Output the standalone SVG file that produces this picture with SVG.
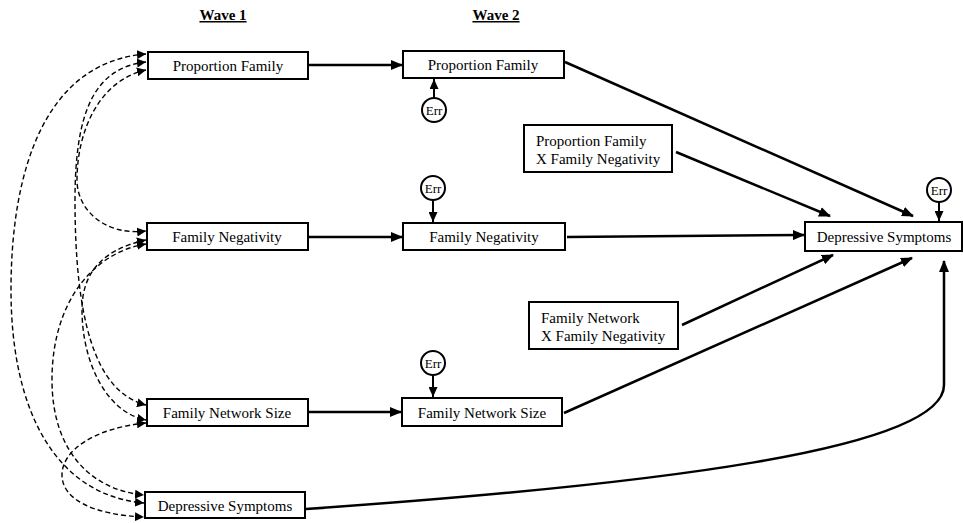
<svg xmlns="http://www.w3.org/2000/svg" width="963" height="523" viewBox="0 0 963 523">
<defs>
<style>
text{font-family:"Liberation Serif","Times New Roman",serif;font-size:15px;fill:#000}
.hdr{font-weight:bold;font-size:15px;text-decoration:underline}
.box{fill:#fff;stroke:#000;stroke-width:2}
.err{fill:#fff;stroke:#000;stroke-width:2}
.errt{font-size:13px}
.a{fill:none;stroke:#000;stroke-width:2.5;marker-end:url(#ah)}
.e{fill:none;stroke:#000;stroke-width:2;marker-end:url(#ahs)}
.d{fill:none;stroke:#000;stroke-width:1.4;stroke-dasharray:5 3;marker-start:url(#dh);marker-end:url(#dh)}
</style>
<marker id="ah" markerUnits="userSpaceOnUse" markerWidth="12" markerHeight="10" refX="11" refY="5" orient="auto"><path d="M0,0 L12,5 L0,10 z" fill="#000"/></marker>
<marker id="ahs" markerUnits="userSpaceOnUse" markerWidth="10" markerHeight="9" refX="10" refY="4.5" orient="auto"><path d="M0,0 L10,4.5 L0,9 z" fill="#000"/></marker>
<marker id="dh" markerUnits="userSpaceOnUse" markerWidth="9" markerHeight="9" refX="9" refY="4.5" orient="auto-start-reverse"><path d="M0,0 L9,4.5 L0,9 z" fill="#000"/></marker>
</defs>

<text class="hdr" x="223" y="20" text-anchor="middle">Wave 1</text>
<text class="hdr" x="496" y="20" text-anchor="middle">Wave 2</text>

<g id="connectors">
<path class="a" d="M309,65 L402,65"/>
<path class="a" d="M309,237 L402,237"/>
<path class="a" d="M309,412 L401,412"/>
<path class="a" d="M565,62 L913,216"/>
<path class="a" d="M676,152 L830,216"/>
<path class="a" d="M567,237 L804,235"/>
<path class="a" d="M682,325 L833,255"/>
<path class="a" d="M564,413 L912,258"/>
<path class="a" d="M306,509 C650,485 944,450 944,385 L944,261"/>
<path class="e" d="M434,98 L434,79"/>
<path class="e" d="M433,200 L433,222"/>
<path class="e" d="M433,375 L433,397"/>
<path class="e" d="M939,202 L939,221"/>
<path class="d" d="M146,54 C45,62 11,170 11,290 C11,410 55,495 144,503"/>
<path class="d" d="M146,62 C95,68 75,110 75,200 C75,320 95,392 146,405"/>
<path class="d" d="M146,70 C100,80 77,130 77,180 C77,210 105,236 146,231"/>
<path class="d" d="M146,244 C95,252 52,300 52,380 C52,450 90,490 144,495"/>
<path class="d" d="M146,240 C100,250 82,275 82,310 C82,360 105,412 146,420"/>
<path class="d" d="M146,423 C95,428 62,450 62,475 C62,500 95,515 144,517"/>
</g>

<g id="w1-pf"><rect class="box" x="148" y="52" width="160" height="27"/><text x="228" y="70.5" text-anchor="middle">Proportion Family</text></g>
<g id="w1-fn"><rect class="box" x="147" y="223" width="161" height="27"/><text x="227" y="241.5" text-anchor="middle">Family Negativity</text></g>
<g id="w1-fns"><rect class="box" x="147" y="399" width="161" height="27"/><text x="227" y="417.5" text-anchor="middle">Family Network Size</text></g>
<g id="w1-ds"><rect class="box" x="145" y="492" width="160" height="26"/><text x="225" y="510.5" text-anchor="middle">Depressive Symptoms</text></g>

<g id="w2-pf"><rect class="box" x="403" y="51" width="161" height="27"/><text x="483" y="69.5" text-anchor="middle">Proportion Family</text></g>
<g id="w2-fn"><rect class="box" x="403" y="223" width="162" height="27"/><text x="484" y="241.5" text-anchor="middle">Family Negativity</text></g>
<g id="w2-fns"><rect class="box" x="402" y="398" width="160" height="28"/><text x="482" y="417.5" text-anchor="middle">Family Network Size</text></g>

<g id="int-pf"><rect class="box" x="524" y="125" width="148" height="47"/><text x="536" y="146">Proportion Family</text><text x="536" y="164">X Family Negativity</text></g>
<g id="int-fns"><rect class="box" x="529" y="302" width="149" height="47"/><text x="541" y="323">Family Network</text><text x="541" y="341">X Family Negativity</text></g>

<g id="w2-ds"><rect class="box" x="805" y="222" width="157" height="29"/><text x="884" y="241.5" text-anchor="middle">Depressive Symptoms</text></g>

<g id="err1"><circle class="err" cx="434" cy="110" r="12"/><text class="errt" x="434" y="114.5" text-anchor="middle">Err</text></g>
<g id="err2"><circle class="err" cx="433" cy="188" r="12"/><text class="errt" x="433" y="192.5" text-anchor="middle">Err</text></g>
<g id="err3"><circle class="err" cx="433" cy="363" r="12"/><text class="errt" x="433" y="367.5" text-anchor="middle">Err</text></g>
<g id="err4"><circle class="err" cx="939" cy="190" r="12"/><text class="errt" x="939" y="194.5" text-anchor="middle">Err</text></g>
</svg>
